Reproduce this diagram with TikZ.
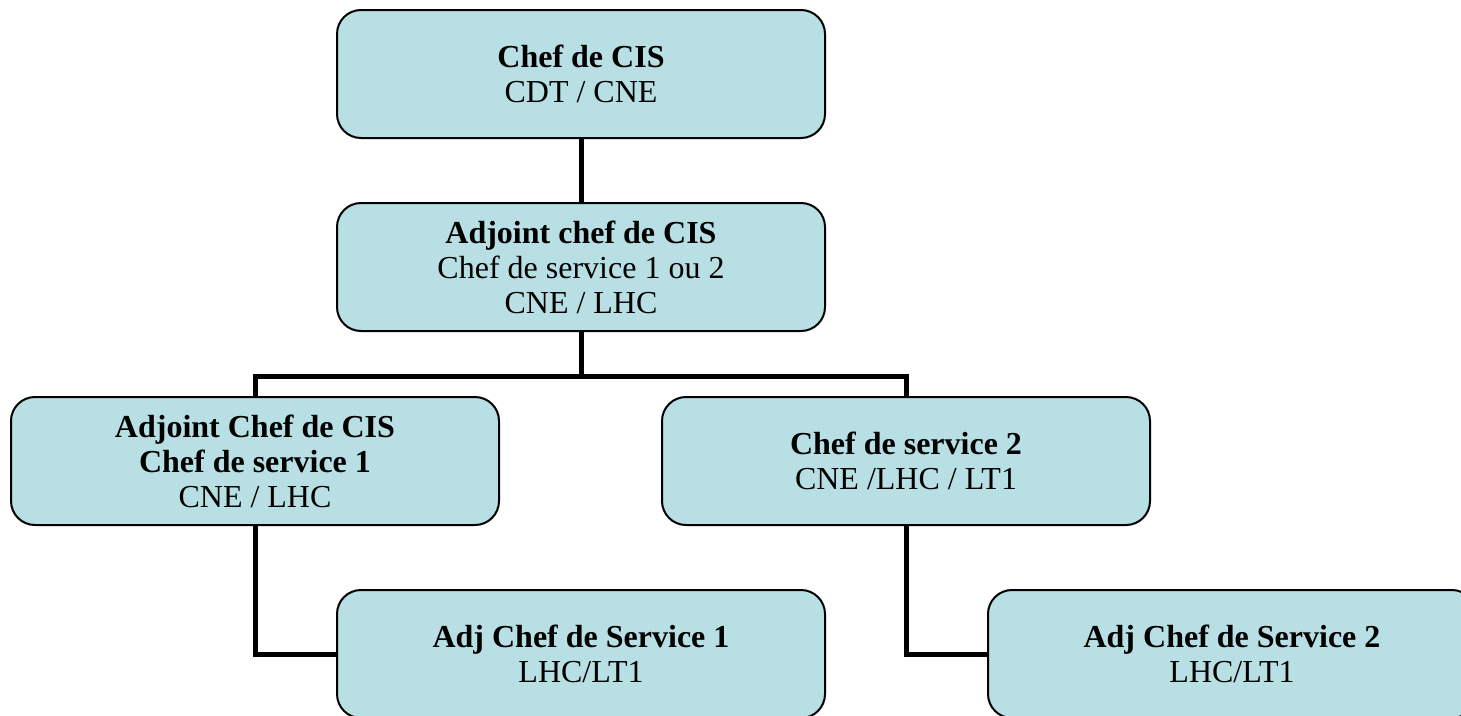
\documentclass[tikz,border=0pt]{standalone}
\usepackage{fontspec}
\setmainfont{Liberation Serif}
\usetikzlibrary{positioning}

\definecolor{boxfill}{HTML}{B8DFE3}
\tikzset{
  post/.style={draw=black, line width=2pt, fill=boxfill, rounded corners=24pt,
    minimum width=488pt, minimum height=128pt, align=center,
    font=\fontsize{32}{35}\selectfont},
  link/.style={line width=5pt}
}

\begin{document}
\begin{tikzpicture}[x=1pt, y=-1pt]
  \useasboundingbox (0,0) rectangle (1461,715);
  \clip (0,0) rectangle (1461,715);
  \node[post] (cis)   at (581,74)  {\textbf{Chef de CIS}\\CDT / CNE};
  \node[post] (adj)   at (581,267) {\textbf{Adjoint chef de CIS}\\Chef de service 1 ou 2\\CNE / LHC};
  \node[post] (serv1) at (255,461) {\textbf{Adjoint Chef de CIS}\\\textbf{Chef de service 1}\\CNE / LHC};
  \node[post] (serv2) at (906,461) {\textbf{Chef de service 2}\\CNE /LHC / LT1};
  \node[post] (adj1)  at (581,654) {\textbf{Adj Chef de Service 1}\\LHC/LT1};
  \node[post] (adj2)  at (1232,654) {\textbf{Adj Chef de Service 2}\\LHC/LT1};
  \path[link]
    (cis) edge (adj)
    (adj.south) edge [to path={-- ++(0,44) -| (\tikztotarget)}] (serv1.north)
    (adj.south) edge [to path={-- ++(0,44) -| (\tikztotarget)}] (serv2.north)
    % lower level
    (serv1.south) edge [to path={|- (\tikztotarget)}] (adj1.west)
    (serv2.south) edge [to path={|- (\tikztotarget)}] (adj2.west);
\end{tikzpicture}
\end{document}
